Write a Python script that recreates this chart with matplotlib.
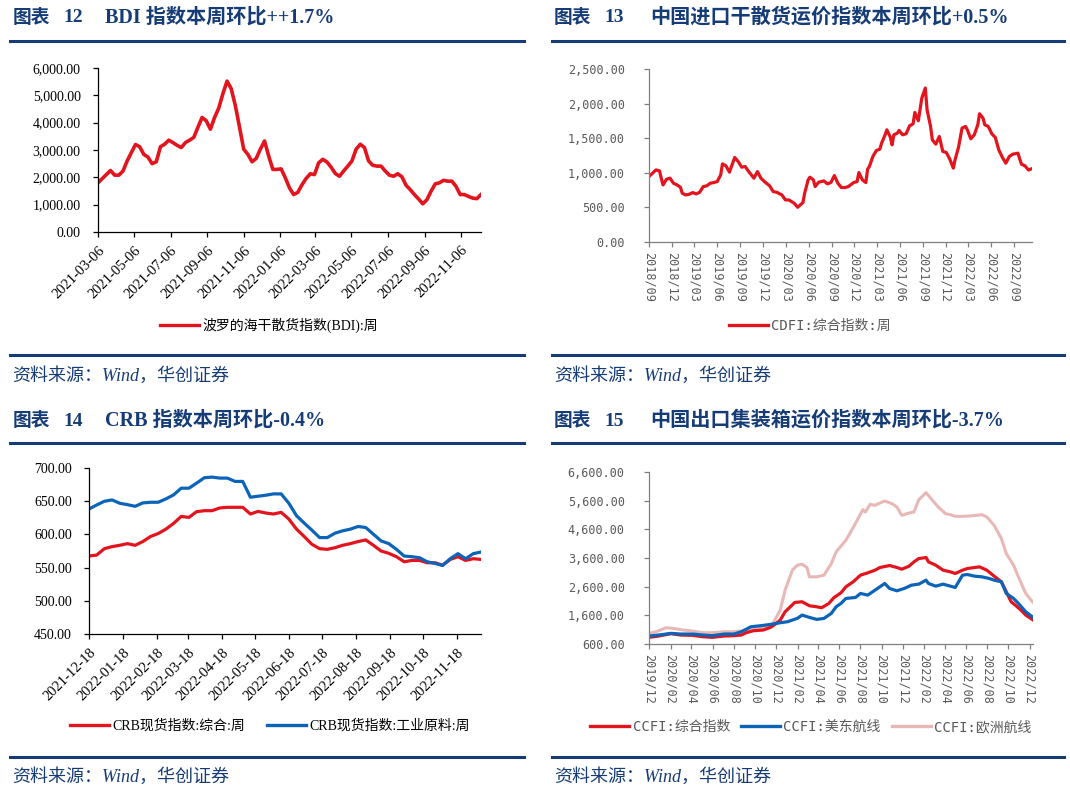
import numpy as np
import pandas as pd
import matplotlib
matplotlib.use("Agg")
import matplotlib.pyplot as plt
from matplotlib.lines import Line2D

W, H = 1070, 808
NAVY = "#163c77"
RED = "#e3141d"
BLUE = "#0c64b8"
PINK = "#e8b8b6"
GRAY = "#808080"
TXT_GRAY = "#595959"

SERIF = ["Liberation Serif", "Noto Sans CJK SC"]
MONO = ["DejaVu Sans Mono", "Noto Sans CJK SC"]

# ---------------- data ----------------
# BDI, weekly from 2021-03-06
bdi_start = "2021-03-06"
bdi = [1800, 1950, 2100, 2250, 2080, 2080, 2230, 2600, 2900, 3200,
       3120, 2840, 2740, 2500, 2570, 3120, 3210, 3360, 3270, 3170,
       3090, 3270, 3360, 3460, 3830, 4190, 4070, 3760, 4190, 4530,
       5060, 5520, 5240, 4620, 3830, 3030, 2840, 2570, 2690, 3030,
       3330, 2780, 2290, 2290, 2310, 1980, 1610, 1370, 1450, 1730,
       1960, 2130, 2100, 2530, 2660, 2560, 2370, 2140, 2040, 2230,
       2410, 2600, 3030, 3210, 3090, 2600, 2440, 2410, 2410, 2230,
       2080, 2040, 2130, 2020, 1710, 1550, 1370, 1210, 1030, 1180,
       1490, 1760, 1800, 1890, 1860, 1860, 1670, 1370, 1370, 1300,
       1240, 1220, 1370]
bdi_ticks = ["2021-03-06", "2021-05-06", "2021-07-06", "2021-09-06", "2021-11-06",
             "2022-01-06", "2022-03-06", "2022-05-06", "2022-07-06", "2022-09-06",
             "2022-11-06"]

# CDFI composite, week number since 2018-09-07
cdfi_start = "2018-09-07"
cdfi_week = [0, 2, 4, 6, 7, 8, 10, 12, 14, 16, 18, 19, 21, 23, 25, 27, 29, 31, 33, 35,
             37, 39, 41, 42, 44, 46, 47, 49, 51, 53, 55, 57, 60, 62, 64, 66, 69, 71, 73, 76,
             78, 80, 83, 85, 88, 89, 91, 92, 94, 95, 97, 100, 102, 104, 106, 108, 110, 112, 114, 117,
             119, 120, 122, 124, 125, 126, 128, 130, 132, 133, 135, 136, 138, 139, 140, 142, 143, 145, 147, 149,
             151, 152, 154, 156, 158, 159, 161, 162, 164, 166, 168, 170, 172, 174, 175, 177, 179, 181, 182, 184,
             186, 188, 189, 191, 192, 194, 196, 198, 200, 202, 204, 206, 208, 211, 212, 213, 215, 217, 219]
cdfi = [946, 994, 1042, 1028, 922, 825, 907, 922, 849, 825, 791, 705, 680, 690, 714, 695, 719, 801, 811, 849,
        859, 873, 970, 1129, 1100, 1009, 1081, 1221, 1163, 1081, 1091, 1018, 922, 1018, 922, 873, 811, 729, 719, 680,
        608, 608, 560, 502, 569, 705, 898, 936, 898, 801, 864, 883, 840, 859, 960, 849, 787, 787, 801, 859,
        873, 1004, 898, 859, 1052, 1091, 1235, 1322, 1342, 1428, 1549, 1621, 1515, 1404, 1549, 1573, 1612, 1549, 1564, 1679,
        1708, 1872, 1752, 2080, 2225, 1911, 1670, 1477, 1414, 1525, 1308, 1293, 1197, 1067, 1187, 1370, 1646, 1670, 1621, 1491,
        1549, 1694, 1853, 1790, 1694, 1670, 1564, 1511, 1332, 1226, 1139, 1235, 1269, 1284, 1197, 1124, 1100, 1040, 1060]
cdfi_ticks = ["2018/09", "2018/12", "2019/03", "2019/06", "2019/09", "2019/12", "2020/03",
              "2020/06", "2020/09", "2020/12", "2021/03", "2021/06", "2021/09", "2021/12",
              "2022/03", "2022/06", "2022/09"]

# CRB spot index, weekly from 2021-12-18
crb_start = "2021-12-18"
crb_total = [567.4, 568.9, 578.5, 581.6, 583.6, 586.1, 583.6, 589.2, 596.8, 601.3,
             607.9, 616.5, 627.1, 625.6, 634.2, 635.7, 635.7, 639.8, 640.8, 640.8,
             640.8, 630.7, 634.7, 632.2, 630.7, 633.2, 623.1, 607.9, 596.8, 585.1,
             578.5, 577.5, 580.0, 583.6, 586.1, 589.2, 591.7, 583.6, 575.0, 571.5,
             566.4, 558.8, 560.8, 560.8, 557.3, 557.3, 553.7, 562.3, 566.4, 560.8,
             563.4, 562.3]
crb_industry = [638.3, 644.3, 649.9, 651.9, 646.9, 644.8, 642.3, 647.4, 648.4, 648.4,
                653.4, 659.5, 669.6, 669.6, 677.2, 685.3, 686.3, 684.8, 684.8, 679.8,
                679.8, 656.0, 657.5, 659.0, 661.0, 661.0, 646.9, 628.1, 617.0, 606.4,
                595.2, 595.2, 601.8, 605.4, 607.9, 611.9, 610.4, 600.3, 590.2, 586.1,
                577.5, 567.4, 566.4, 564.9, 558.8, 556.3, 553.2, 563.4, 571.0, 563.4,
                571.0, 573.5]
crb_ticks = ["2021-12-18", "2022-01-18", "2022-02-18", "2022-03-18", "2022-04-18",
             "2022-05-18", "2022-06-18", "2022-07-18", "2022-08-18", "2022-09-18",
             "2022-10-18", "2022-11-18"]

# CCFI, week number since 2019-12-06
ccfi_start = "2019-12-06"
ccfi_total_week = [0, 4, 9, 13, 18, 22, 26, 31, 35, 38, 40, 43, 47, 50, 52, 54, 56, 60, 63, 66,
                   69, 71, 74, 76, 79, 81, 84, 87, 90, 93, 95, 99, 102, 104, 107, 109, 111, 114, 115, 118,
                   121, 124, 126, 129, 131, 134, 136, 139, 142, 145, 147, 149, 151, 153, 155, 158]
ccfi_total = [832, 878, 960, 913, 902, 855, 832, 878, 890, 913, 994, 1064, 1087, 1180, 1296, 1435, 1725, 2050, 2073, 1934,
              1899, 1864, 2015, 2212, 2386, 2595, 2769, 3001, 3082, 3175, 3268, 3338, 3268, 3210, 3314, 3465, 3581, 3616, 3465, 3349,
              3175, 3117, 3059, 3175, 3233, 3268, 3291, 3175, 2966, 2769, 2421, 2073, 1934, 1783, 1610, 1440]
ccfi_useast_week = [0, 4, 9, 13, 18, 22, 26, 31, 35, 38, 42, 46, 50, 54, 57, 61, 63, 66, 69, 72,
                    75, 77, 79, 81, 85, 87, 90, 93, 95, 97, 99, 102, 105, 108, 111, 114, 115, 118, 121, 124,
                    126, 129, 131, 134, 137, 140, 142, 145, 147, 150, 152, 155, 158]
ccfi_useast = [878, 913, 971, 948, 948, 913, 890, 948, 948, 1029, 1203, 1238, 1284, 1342, 1377, 1493, 1609, 1528, 1458, 1493,
               1667, 1899, 2015, 2189, 2224, 2363, 2305, 2479, 2595, 2711, 2537, 2456, 2537, 2653, 2688, 2827, 2711, 2618, 2688, 2618,
               2572, 3001, 3024, 2966, 2943, 2885, 2827, 2769, 2363, 2189, 2015, 1725, 1530]
ccfi_europe_week = [0, 3, 7, 10, 14, 18, 22, 26, 31, 35, 38, 41, 45, 49, 51, 54, 56, 59, 61, 63,
                    65, 66, 69, 72, 75, 77, 81, 83, 86, 88, 89, 91, 93, 95, 97, 100, 102, 104, 107, 109,
                    111, 114, 117, 119, 122, 124, 126, 129, 132, 135, 137, 139, 142, 145, 147, 150, 152, 155, 158]
ccfi_europe = [971, 1029, 1168, 1145, 1087, 1052, 994, 994, 1029, 1029, 1052, 1110, 1145, 1203, 1319, 1783, 2479, 3175, 3349, 3384,
               3268, 2943, 2943, 3001, 3407, 3813, 4219, 4509, 4973, 5286, 5205, 5472, 5437, 5518, 5588, 5495, 5379, 5089, 5170, 5205,
               5634, 5878, 5576, 5379, 5147, 5112, 5054, 5054, 5066, 5089, 5112, 5031, 4741, 4277, 3755, 3349, 2943, 2363, 2050]
ccfi_ticks = ["2019/12", "2020/02", "2020/04", "2020/06", "2020/08", "2020/10", "2020/12",
              "2021/02", "2021/04", "2021/06", "2021/08", "2021/10", "2021/12", "2022/02",
              "2022/04", "2022/06", "2022/08", "2022/10", "2022/12"]

titles = [("图表", "12", "BDI 指数本周环比++1.7%"),
          ("图表", "13", "中国进口干散货运价指数本周环比+0.5%"),
          ("图表", "14", "CRB 指数本周环比-0.4%"),
          ("图表", "15", "中国出口集装箱运价指数本周环比-3.7%")]
source = "资料来源：Wind，华创证券"


def weekly(start, weeks):
    return pd.Timestamp(start) + pd.to_timedelta(np.asarray(weeks) * 7, unit="D")


def fx(px):
    return px / W


def fy(py):
    return 1 - py / H


fig = plt.figure(figsize=(W / 100, H / 100), dpi=100)


def add_axes(left, top, right, bottom):
    return fig.add_axes([fx(left), fy(bottom), (right - left) / W, (bottom - top) / H])


def style(ax, spine_color):
    for s in ("top", "right"):
        ax.spines[s].set_visible(False)
    for s in ("left", "bottom"):
        ax.spines[s].set_color(spine_color)
        ax.spines[s].set_linewidth(0.9)
    ax.tick_params(axis="both", direction="out", length=3.5, width=0.9, color=spine_color)


def y_ticks(ax, lo, hi, step, family, size, color, pad):
    vals = np.arange(lo, hi + step / 2, step)
    ax.set_ylim(lo, hi)
    ax.set_yticks(vals, [f"{v:,.2f}" for v in vals], fontfamily=family, fontsize=size, color=color)
    ax.tick_params(axis="y", pad=pad)


def legend(items, cx, cy, family, color, colsp):
    handles = [Line2D([], [], color=c, lw=lw) for c, lw, _ in items]
    labels = [t for _, _, t in items]
    fig.legend(handles, labels, loc="center", bbox_to_anchor=(fx(cx), fy(cy)), ncol=len(items),
               frameon=False, handlelength=2.8, handletextpad=0.25, columnspacing=colsp,
               borderpad=0, borderaxespad=0, prop={"family": family, "size": 10}, labelcolor=color)


# ---------------- panel 12: BDI ----------------
ax1 = add_axes(98, 68, 481, 232)
d = pd.date_range(bdi_start, periods=len(bdi), freq="7D")
ax1.plot(d, bdi, color=RED, lw=2.6, solid_joinstyle="round")
ax1.set_xlim(d[0], d[-1])
style(ax1, "black")
y_ticks(ax1, 0, 6000, 1000, SERIF, 10, "black", 9)
ax1.set_xticks(pd.to_datetime(bdi_ticks), bdi_ticks, rotation=45, ha="right", va="top",
               rotation_mode="anchor", fontfamily=SERIF, fontsize=10.5)
ax1.tick_params(axis="x", pad=5)
legend([(RED, 2.4, "波罗的海干散货指数(BDI):周")], 269, 325, SERIF, "black", 1.5)

# ---------------- panel 13: CDFI ----------------
ax2 = add_axes(649, 69, 1032, 242)
d = weekly(cdfi_start, cdfi_week)
ax2.plot(d, cdfi, color=RED, lw=2.3, solid_joinstyle="round")
ax2.set_xlim(d[0], d[-1])
style(ax2, GRAY)
y_ticks(ax2, 0, 2500, 500, MONO, 8.5, TXT_GRAY, 14)
tick_d = [pd.Timestamp(cdfi_start) + pd.DateOffset(months=3 * i) for i in range(len(cdfi_ticks))]
ax2.set_xticks(tick_d, cdfi_ticks, rotation=-90, ha="center", va="top",
               fontfamily=MONO, fontsize=8.5, color=TXT_GRAY)
ax2.tick_params(axis="x", pad=4)
legend([(RED, 2.4, "CDFI:综合指数:周")], 810, 326, MONO, TXT_GRAY, 1.5)

# ---------------- panel 14: CRB ----------------
ax3 = add_axes(89, 468, 481, 634)
d = pd.date_range(crb_start, periods=len(crb_total), freq="7D")
ax3.plot(d, crb_total, color=RED, lw=2.3, solid_joinstyle="round")
ax3.plot(d, crb_industry, color=BLUE, lw=2.3, solid_joinstyle="round")
ax3.set_xlim(d[0], d[-1])
style(ax3, "black")
y_ticks(ax3, 450, 700, 50, SERIF, 10, "black", 9)
ax3.set_xticks(pd.to_datetime(crb_ticks), crb_ticks, rotation=45, ha="right", va="top",
               rotation_mode="anchor", fontfamily=SERIF, fontsize=10.5)
ax3.tick_params(axis="x", pad=5)
legend([(RED, 2.4, "CRB现货指数:综合:周"), (BLUE, 2.4, "CRB现货指数:工业原料:周")],
       270, 726, SERIF, "black", 1.6)

# ---------------- panel 15: CCFI ----------------
ax4 = add_axes(649, 472, 1033, 644)
ax4.plot(weekly(ccfi_start, ccfi_europe_week), ccfi_europe, color=PINK, lw=2.2, solid_joinstyle="round")
ax4.plot(weekly(ccfi_start, ccfi_total_week), ccfi_total, color=RED, lw=2.3, solid_joinstyle="round")
ax4.plot(weekly(ccfi_start, ccfi_useast_week), ccfi_useast, color=BLUE, lw=2.3, solid_joinstyle="round")
ax4.set_xlim(weekly(ccfi_start, [0])[0], weekly(ccfi_start, [ccfi_total_week[-1]])[0])
style(ax4, GRAY)
y_ticks(ax4, 600, 6600, 1000, MONO, 8.5, TXT_GRAY, 14)
tick_d = [pd.Timestamp(ccfi_start) + pd.DateOffset(months=2 * i) for i in range(len(ccfi_ticks))]
ax4.set_xticks(tick_d, ccfi_ticks, rotation=-90, ha="center", va="top",
               fontfamily=MONO, fontsize=8.5, color=TXT_GRAY)
ax4.tick_params(axis="x", pad=4)
legend([(RED, 2.4, "CCFI:综合指数"), (BLUE, 2.4, "CCFI:美东航线"), (PINK, 2.4, "CCFI:欧洲航线")],
       811, 727, MONO, TXT_GRAY, 0.8)

# ---------------- titles, rules, sources ----------------
for i, (head, num, text) in enumerate(titles):
    x0 = 13 if i % 2 == 0 else 554
    y0 = 18 if i < 2 else 421
    fig.text(fx(x0), fy(y0), head, fontsize=13.5, fontweight="bold", color=NAVY,
             family=SERIF, va="center", ha="left")
    fig.text(fx(x0 + 50), fy(y0), num, fontsize=14, fontweight="bold", color=NAVY,
             family=SERIF, va="center", ha="left")
    fig.text(fx(x0 + (92 if i % 2 == 0 else 96)), fy(y0), text, fontsize=14.5, fontweight="bold",
             color=NAVY, family=SERIF, va="center", ha="left")

for (a, b) in ((10, 524), (552, 1064)):
    for yy in (41, 355, 443, 757):
        fig.add_artist(Line2D([fx(a), fx(b)], [fy(yy), fy(yy)], transform=fig.transFigure,
                              color=NAVY, lw=2.2))
    for yy in (376, 777):
        fig.text(fx(a + 2), fy(yy), source, fontsize=13, style="italic", color=NAVY,
                 family=SERIF, va="center", ha="left")

fig.savefig("out.png", dpi=100)
